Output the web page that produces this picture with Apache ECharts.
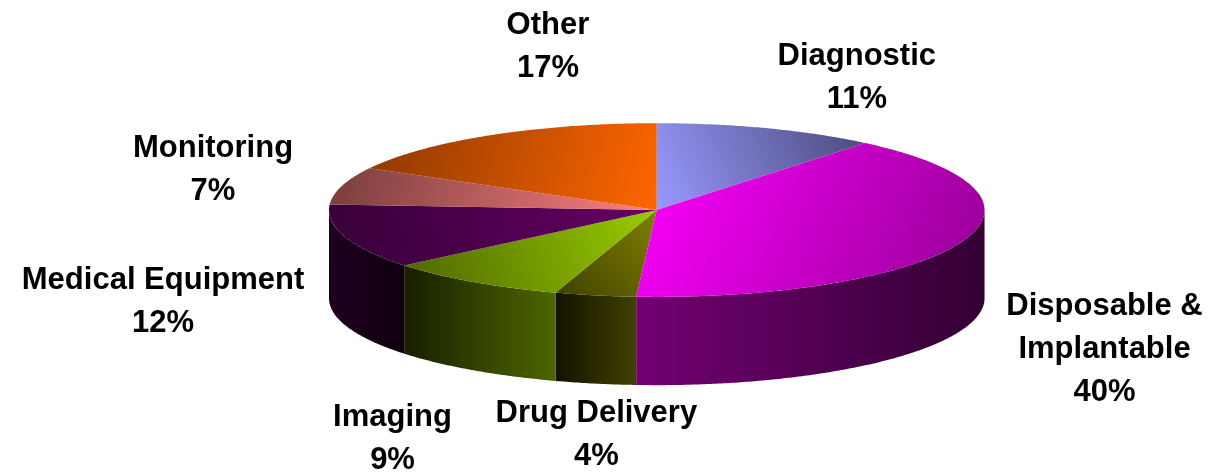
<!DOCTYPE html>
<html>
<head>
<meta charset="utf-8">
<title>Market share</title>
<script src="https://cdn.jsdelivr.net/npm/echarts/dist/echarts.min.js"></script>
<style>
  html, body { margin: 0; padding: 0; background: #fff; }
  #chartArea { width: 1214px; height: 472px; }
</style>
</head>
<body>
<div id="chartArea"></div>
<script>
// slices, clockwise from 12 o'clock
const categories = ['Diagnostic', 'Disposable &\nImplantable', 'Drug Delivery', 'Imaging',
  'Medical Equipment', 'Monitoring', 'Other'];
const shares = [11, 40, 4, 9, 12, 7, 17];

// styles
const sliceColors = ['#9999FF', '#FF00FF', '#808000', '#99CC00', '#660066', '#FF8080', '#FF6600'];
// side wall shading, [left end, right end] as a share of the base colour
const sideShade = [[0.3, 0.3], [0.45, 0.2], [0.15, 0.5], [0.15, 0.5], [0.3, 0.15], [0.3, 0.3], [0.3, 0.3]];
// how dark the top face gets at the corner away from the centre
const topShade = [0.48, 0.58, 0.5, 0.5, 0.55, 0.48, 0.55];
// label centre, relative to the rim point at the middle of the slice
const labelOffset = [[89, -50], [143, 19], [1, 51], [-80, 69], [-182, -23], [-129, -16], [58, -88]];

function shade(hex, f) {
  let n = parseInt(hex.slice(1), 16);
  let r = Math.round(((n >> 16) & 255) * f);
  let g = Math.round(((n >> 8) & 255) * f);
  let b = Math.round((n & 255) * f);
  return 'rgb(' + r + ',' + g + ',' + b + ')';
}

const total = shares.reduce((a, b) => a + b, 0);

function renderSlice(params, api) {
  let i = params.dataIndex;
  let W = api.getWidth(), H = api.getHeight();
  // pie layout
  let cx = W * 0.541, cy = H * 0.445;
  let rx = W * 0.27, ry = H * 0.184, depth = H * 0.187;

  let start = 0;
  for (let k = 0; k < i; k++) start += shares[k];
  let a0 = start / total * 360;
  let a1 = (start + api.value(0)) / total * 360;

  function rim(deg, dy) {
    let t = deg * Math.PI / 180;
    return [cx + rx * Math.sin(t), cy - ry * Math.cos(t) + (dy || 0)];
  }
  function arc(from, to, dy) {
    let pts = [];
    let n = Math.max(2, Math.ceil(Math.abs(to - from) / 0.5));
    for (let s = 0; s <= n; s++) pts.push(rim(from + (to - from) * s / n, dy));
    return pts;
  }

  let children = [];
  let base = sliceColors[i];

  // outer wall, only the front half shows
  let s0 = Math.max(a0, 90), s1 = Math.min(a1, 270);
  if (s1 > s0) {
    let topArc = arc(s0, s1, 0);
    let botArc = arc(s1, s0, depth);
    let xs = topArc.map(p => p[0]);
    let xl = Math.min.apply(null, xs), xr = Math.max.apply(null, xs);
    children.push({
      type: 'polygon',
      z2: 1,
      shape: { points: topArc.concat(botArc) },
      style: {
        fill: new echarts.graphic.LinearGradient(xl, 0, xr, 0, [
          { offset: 0, color: shade(base, sideShade[i][0]) },
          { offset: 1, color: shade(base, sideShade[i][1]) }
        ], true)
      }
    });
  }

  // top face, bright at the corner of its box nearest the centre
  let face = [[cx, cy]].concat(arc(a0, a1, 0));
  let fx = face.map(p => p[0]), fy = face.map(p => p[1]);
  let bx0 = Math.min.apply(null, fx), bx1 = Math.max.apply(null, fx);
  let by0 = Math.min.apply(null, fy), by1 = Math.max.apply(null, fy);
  let gx = Math.abs(cx - bx0) < Math.abs(cx - bx1) ? 0 : 1;
  let gy = Math.abs(cy - by0) < Math.abs(cy - by1) ? 0 : 1;
  children.push({
    type: 'polygon',
    z2: 2,
    shape: { points: face },
    style: {
      fill: new echarts.graphic.LinearGradient(gx, gy, 1 - gx, 1 - gy, [
        { offset: 0, color: base },
        { offset: 1, color: shade(base, topShade[i]) }
      ])
    }
  });

  // data label
  let mid = (a0 + a1) / 2;
  let front = Math.cos(mid * Math.PI / 180) < 0;
  let anchor = rim(mid, front ? depth : 0);
  children.push({
    type: 'text',
    z2: 3,
    x: anchor[0] + labelOffset[i][0],
    y: anchor[1] + labelOffset[i][1],
    style: {
      text: categories[i] + '\n' + api.value(0) + '%',
      fill: '#000',
      fontFamily: '"Liberation Sans", Arial, sans-serif',
      fontWeight: 'bold',
      fontSize: 31,
      lineHeight: 43,
      align: 'center',
      verticalAlign: 'middle'
    }
  });

  return { type: 'group', children: children };
}

const chartDom = document.getElementById('chartArea');
let myChart = echarts.init(chartDom);
let option = {
  animation: false,
  series: [{
    type: 'custom',
    coordinateSystem: 'none',
    silent: true,
    renderItem: renderSlice,
    data: shares.map(v => [v])
  }]
};
option && myChart.setOption(option);
</script>
</body>
</html>
